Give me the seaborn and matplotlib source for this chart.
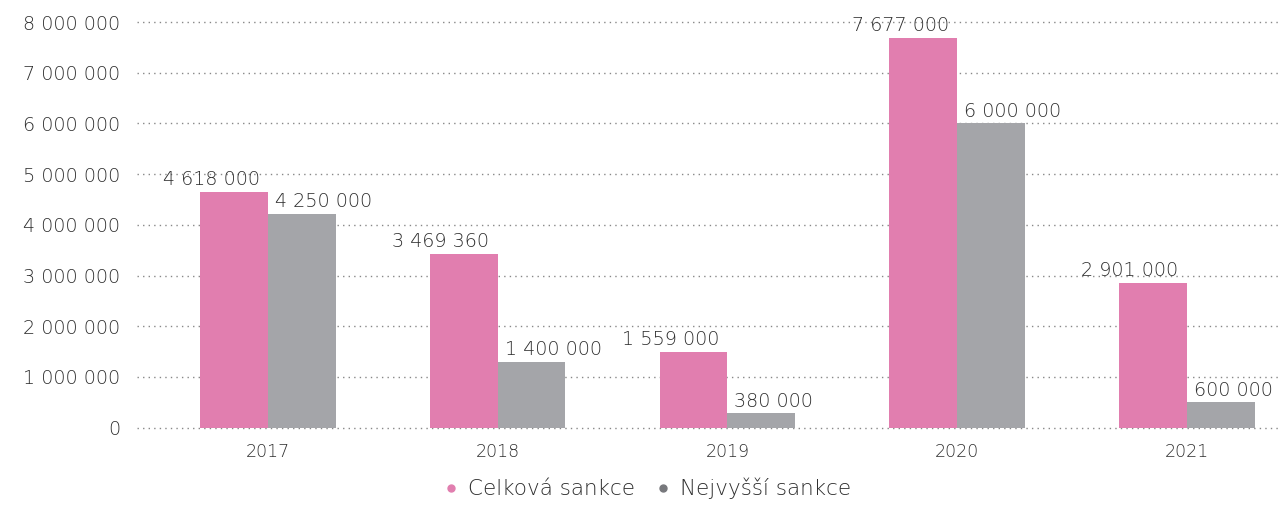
import pandas as pd
import numpy as np
import matplotlib.pyplot as plt
import matplotlib.ticker as mticker
from matplotlib.lines import Line2D
import seaborn as sns

# data
roky = ["2017", "2018", "2019", "2020", "2021"]
celkova = [4650000, 3430000, 1500000, 7690000, 2850000]
nejvyssi = [4220000, 1300000, 280000, 6000000, 500000]
popisky_celkova = ["4 618 000", "3 469 360", "1 559 000", "7 677 000", "2 901 000"]
popisky_nejvyssi = ["4 250 000", "1 400 000", "380 000", "6 000 000", "600 000"]
serie = ["Celková sankce", "Nejvyšší sankce"]

pink = "#E17EAF"
grey = "#A4A5A9"
txt = "#2e2e2e"

df = pd.DataFrame({
    "rok": roky * 2,
    "hodnota": celkova + nejvyssi,
    "typ": [serie[0]] * len(roky) + [serie[1]] * len(roky),
})

sns.set_style("white")
plt.rcParams["font.family"] = ["DejaVu Sans"]
plt.rcParams["font.weight"] = "light"

fig = plt.figure(figsize=(12.81, 5.14), dpi=100)
ax = fig.add_axes([0.107, 0.168, 0.893, 0.789])

sns.barplot(data=df, x="rok", y="hodnota", hue="typ", palette=[pink, grey],
            width=0.59, saturation=1, ax=ax, legend=False, zorder=2, linewidth=0)

ax.set_ylim(0, 8000000)
ax.set_xlim(-0.57, 4.41)
ax.yaxis.set_major_locator(mticker.MultipleLocator(1000000))
ax.yaxis.set_major_formatter(mticker.FuncFormatter(lambda v, p: f"{int(v):,}".replace(",", " ")))
ax.grid(axis="y", linestyle=(0, (1, 3)), color="#888888", linewidth=1, zorder=0)
for gl in ax.get_ygridlines():
    gl.set_clip_on(False)
ax.set_axisbelow(True)
for s in ax.spines.values():
    s.set_visible(False)
ax.tick_params(axis="y", length=0, pad=12, labelsize=13.8, labelcolor=txt)
ax.tick_params(axis="x", length=0, pad=11, labelsize=12.5, labelcolor=txt)
ax.set_xlabel("")
ax.set_ylabel("")

# data labels
for bar, lab in zip(ax.containers[0], popisky_celkova):
    ax.annotate(lab, (bar.get_x() + bar.get_width(), bar.get_height()),
                xytext=(-6, 2), textcoords="offset points", ha="right", va="bottom",
                fontsize=13.8, color=txt, annotation_clip=False)
for bar, lab in zip(ax.containers[1], popisky_nejvyssi):
    ax.annotate(lab, (bar.get_x(), bar.get_height()),
                xytext=(5, 2), textcoords="offset points", ha="left", va="bottom",
                fontsize=13.8, color=txt, annotation_clip=False)

handles = [Line2D([], [], marker="o", linestyle="", markersize=5, color=pink),
           Line2D([], [], marker="o", linestyle="", markersize=5, color="#77787C")]
fig.legend(handles, serie, loc="center", bbox_to_anchor=(0.504, 0.05), ncol=2,
           frameon=False, fontsize=15.5, labelcolor=txt, handletextpad=0.3,
           columnspacing=0.8, handlelength=1)

fig.savefig("out.png", dpi=100)
